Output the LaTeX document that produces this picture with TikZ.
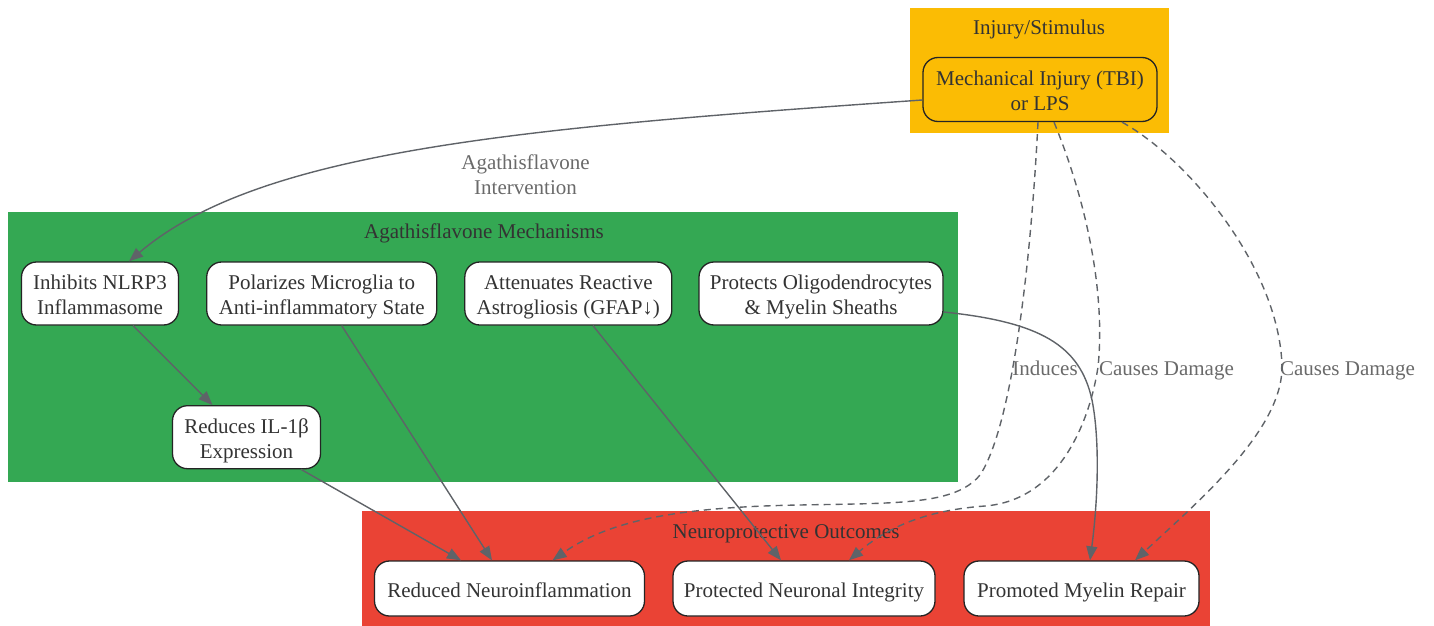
\documentclass[tikz,border=0pt]{standalone}
\usepackage{fontspec}
\setmainfont{Liberation Serif}
\usetikzlibrary{arrows.meta}
\definecolor{gyellow}{HTML}{FBBC04}
\definecolor{ggreen}{HTML}{34A853}
\definecolor{gred}{HTML}{EA4335}
\definecolor{edgec}{HTML}{5F6368}
\definecolor{txtc}{HTML}{333333}
\definecolor{lblc}{HTML}{6A6A6A}
\newcommand\mytopstrut{\rule{0pt}{23pt}}
\newcommand\mybotstrut{\rule[-6pt]{0pt}{0pt}}
\begin{document}
\begin{tikzpicture}[x=1pt,y=-1pt,
  box/.style={draw=txtc!70!black, line width=1.3pt, rounded corners=15pt, fill=white, text=txtc,
    align=center, inner sep=0pt, font=\fontsize{21}{25}\selectfont},
  clustertitle/.style={text=txtc, inner sep=0pt, anchor=base, font=\fontsize{21}{25}\selectfont},
  elabel/.style={text=lblc, inner sep=0pt, align=center, font=\fontsize{21}{25}\selectfont},
  conn/.style={draw=edgec, line width=1.4pt, -{Triangle[length=14pt,width=11pt]}},
  dconn/.style={conn, dash pattern=on 7pt off 5pt}]
\useasboundingbox (0,0) rectangle (1434,626);
% clusters
\fill[gyellow] (910,8) rectangle (1169,133);
\fill[ggreen] (8,212) rectangle (958,481.5);
\fill[gred] (362,511) rectangle (1210,626);
\node[clustertitle] (t1) at (1039,35) {Injury/Stimulus};
\node[clustertitle] (t2) at (484,238) {Agathisflavone Mechanisms};
\node[clustertitle] (t3) at (786,538) {Neuroprotective Outcomes};
% nodes
\node[box, fill=gyellow, minimum width=234pt, minimum height=64pt] (mech) at (1040,89.5) {\mytopstrut Mechanical Injury (TBI)\\or LPS\mybotstrut};
\node[box, minimum width=157pt, minimum height=63pt] (inhib) at (100,293.5) {\mytopstrut Inhibits NLRP3\\Inflammasome\mybotstrut};
\node[box, minimum width=230pt, minimum height=63pt] (polar) at (321.7,293.5) {\mytopstrut Polarizes Microglia to\\Anti-inflammatory State\mybotstrut};
\node[box, minimum width=207pt, minimum height=63pt] (atten) at (568.3,293.5) {\mytopstrut Attenuates Reactive\\Astrogliosis (GFAP↓)\mybotstrut};
\node[box, minimum width=244pt, minimum height=63pt] (protect) at (821,293.5) {\mytopstrut Protects Oligodendrocytes\\\& Myelin Sheaths\mybotstrut};
\node[box, minimum width=148pt, minimum height=63pt] (reduces) at (246.5,437.2) {\mytopstrut Reduces IL-1β\\Expression\mybotstrut};
\node[box, minimum width=270pt, minimum height=55pt] (reduced) at (509.5,588.5) {\mytopstrut Reduced Neuroinflammation\mybotstrut};
\node[box, minimum width=262pt, minimum height=55pt] (protected) at (804,588.5) {\mytopstrut Protected Neuronal Integrity\mybotstrut};
\node[box, minimum width=235pt, minimum height=55pt] (promoted) at (1081.5,588.5) {\mytopstrut Promoted Myelin Repair\mybotstrut};
% edge labels
\node[elabel] (l1) at (525.5,175) {Agathisflavone\\Intervention};
\node[elabel, anchor=base] (l2) at (1045,375) {Induces};
\node[elabel, anchor=base] (l3) at (1166.5,375) {Causes Damage};
\node[elabel, anchor=base] (l4) at (1347.5,375) {Causes Damage};
% edges
\draw[conn] ([yshift=-10.5pt]mech.west) .. controls (521,128) and (260,150) .. ([xshift=29pt]inhib.north);
\draw[conn] ([xshift=33pt]inhib.south) -- ([xshift=-34pt]reduces.north);
\draw[conn] ([xshift=54.5pt]reduces.south) -- ([xshift=-48.5pt]reduced.north);
\draw[conn] ([xshift=20pt]polar.south) -- ([xshift=-17.5pt]reduced.north);
\draw[conn] ([xshift=24.7pt]atten.south) -- ([xshift=-23pt]protected.north);
\draw[conn] ([yshift=-18.5pt]protect.east) .. controls (1040,322) and (1080,345) .. (1092,400)
  .. controls (1100,440) and (1098,500) .. ([xshift=8.5pt]promoted.north);
\draw[dconn] ([xshift=-2pt]mech.south) .. controls (1030,280) and (1010,430) .. (980,475)
  .. controls (955,505) and (900,503) .. (800,505)
  .. controls (680,507) and (610,520) .. ([xshift=43pt]reduced.north);
\draw[dconn] ([xshift=14pt]mech.south) .. controls (1090,210) and (1105,300) .. (1098,367)
  .. controls (1090,420) and (1060,500) .. (985,506)
  .. controls (930,510) and (890,525) .. ([xshift=45pt]protected.north);
\draw[dconn] ([xshift=82pt]mech.south) .. controls (1190,160) and (1280,270) .. (1282,367)
  .. controls (1282,430) and (1200,500) .. ([xshift=53.5pt]promoted.north);
\end{tikzpicture}
\end{document}
